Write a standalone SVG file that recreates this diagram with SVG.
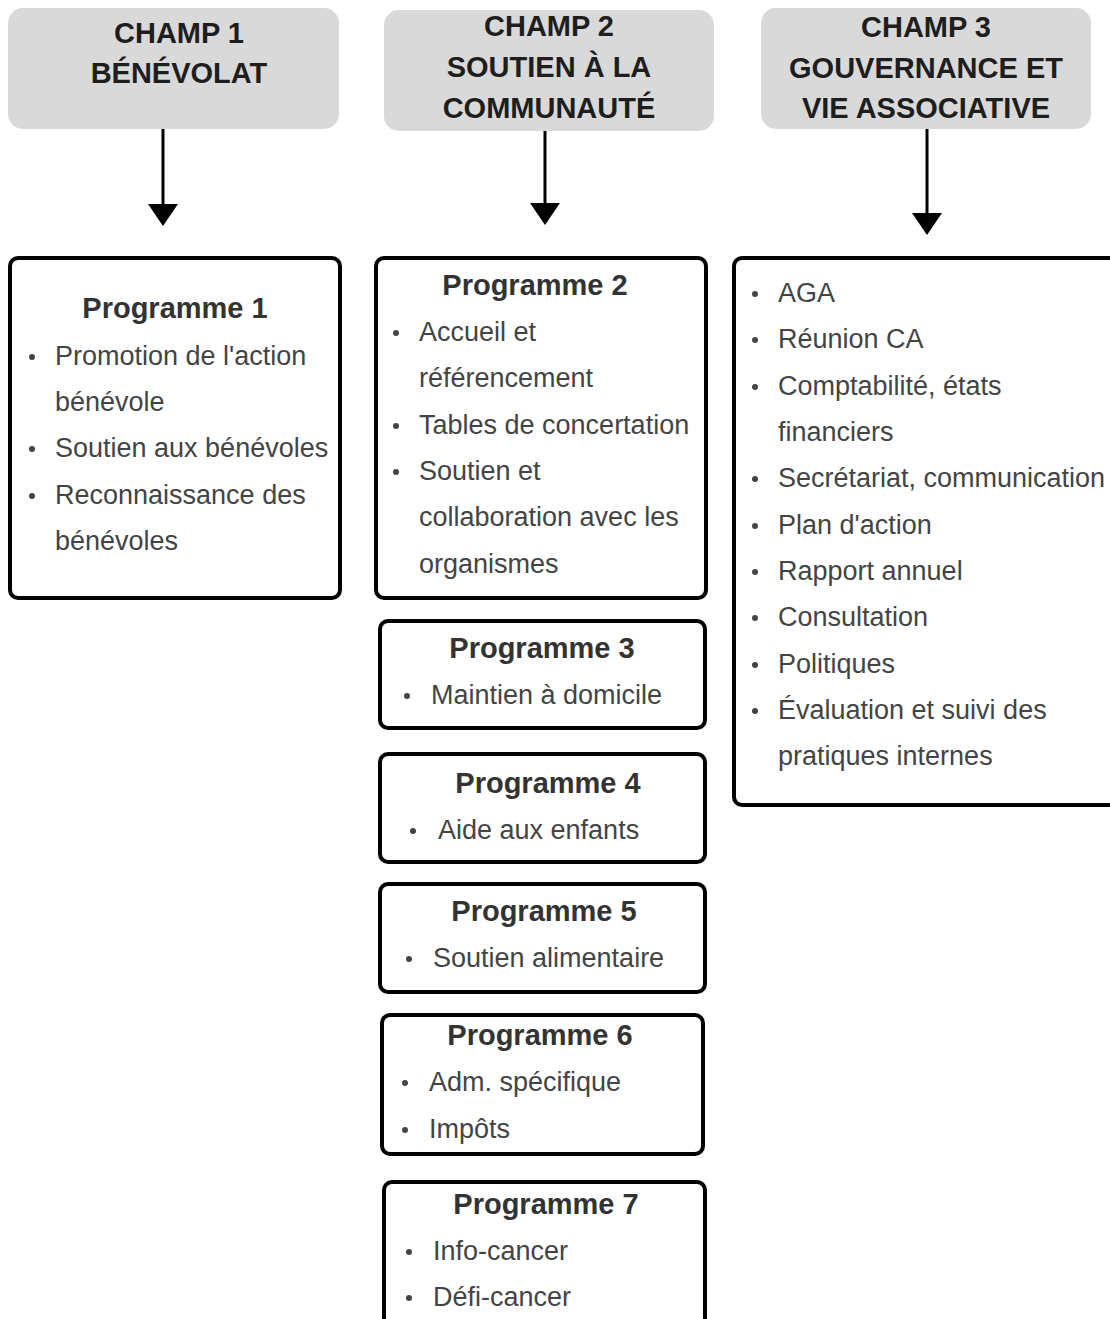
<svg xmlns="http://www.w3.org/2000/svg" width="1110" height="1319" viewBox="0 0 1110 1319">
<style>
.champ{fill:#d9d9d9;stroke:none}
.prog{fill:#fff;stroke:#000;stroke-width:4}
.ht{font-family:"Liberation Sans",Arial,sans-serif;font-weight:bold;font-size:29px;fill:#1e1e1e;text-anchor:middle}
.pt{font-family:"Liberation Sans",Arial,sans-serif;font-weight:bold;font-size:29px;fill:#333;text-anchor:middle}
.bt{font-family:"Liberation Sans",Arial,sans-serif;font-size:27px;fill:#444}
.bul{fill:#444}
.conn{stroke:#000;stroke-width:3;fill:none}
.head{fill:#000}
</style>
<rect width="1110" height="1319" fill="#fff"/>
<g id="champ1">
<rect class="champ" x="8" y="8" width="331" height="121" rx="15"/>
<text class="ht" x="179" y="43">CHAMP 1</text>
<text class="ht" x="179" y="83">BÉNÉVOLAT</text>
</g>
<g id="champ2">
<rect class="champ" x="384" y="10" width="330" height="121" rx="15"/>
<text class="ht" x="549" y="36">CHAMP 2</text>
<text class="ht" x="549" y="77">SOUTIEN À LA</text>
<text class="ht" x="549" y="118">COMMUNAUTÉ</text>
</g>
<g id="champ3">
<rect class="champ" x="761" y="8" width="330" height="121" rx="15"/>
<text class="ht" x="926" y="37">CHAMP 3</text>
<text class="ht" x="926" y="78">GOUVERNANCE ET</text>
<text class="ht" x="926" y="118">VIE ASSOCIATIVE</text>
</g>
<g id="connectors">
<line class="conn" x1="163" y1="129" x2="163" y2="205"/>
<polygon class="head" points="148,204 178,204 163,226"/>
<line class="conn" x1="545" y1="131" x2="545" y2="204"/>
<polygon class="head" points="530,203 560,203 545,225"/>
<line class="conn" x1="927" y1="129" x2="927" y2="214"/>
<polygon class="head" points="912,213 942,213 927,235"/>
</g>
<g id="programme1">
<rect class="prog" x="10" y="258" width="330" height="340" rx="8"/>
<text class="pt" x="175" y="318">Programme 1</text>
<circle class="bul" cx="32" cy="357" r="3"/>
<text class="bt" x="55" y="365">Promotion de l'action</text>
<text class="bt" x="55" y="411">bénévole</text>
<circle class="bul" cx="32" cy="449" r="3"/>
<text class="bt" x="55" y="457">Soutien aux bénévoles</text>
<circle class="bul" cx="32" cy="496" r="3"/>
<text class="bt" x="55" y="504">Reconnaissance des</text>
<text class="bt" x="55" y="550">bénévoles</text>
</g>
<g id="programme2">
<rect class="prog" x="376" y="258" width="330" height="340" rx="8"/>
<text class="pt" x="535" y="295">Programme 2</text>
<circle class="bul" cx="396" cy="333" r="3"/>
<text class="bt" x="419" y="341">Accueil et</text>
<text class="bt" x="419" y="387">référencement</text>
<circle class="bul" cx="396" cy="426" r="3"/>
<text class="bt" x="419" y="434">Tables de concertation</text>
<circle class="bul" cx="396" cy="472" r="3"/>
<text class="bt" x="419" y="480">Soutien et</text>
<text class="bt" x="419" y="526">collaboration avec les</text>
<text class="bt" x="419" y="573">organismes</text>
</g>
<g id="programme3">
<rect class="prog" x="380" y="621" width="325" height="107" rx="8"/>
<text class="pt" x="542" y="658">Programme 3</text>
<circle class="bul" cx="407" cy="696" r="3"/>
<text class="bt" x="431" y="704">Maintien à domicile</text>
</g>
<g id="programme4">
<rect class="prog" x="380" y="754" width="325" height="108" rx="8"/>
<text class="pt" x="548" y="793">Programme 4</text>
<circle class="bul" cx="413" cy="831" r="3"/>
<text class="bt" x="438" y="839">Aide aux enfants</text>
</g>
<g id="programme5">
<rect class="prog" x="380" y="884" width="325" height="108" rx="8"/>
<text class="pt" x="544" y="921">Programme 5</text>
<circle class="bul" cx="409" cy="959" r="3"/>
<text class="bt" x="433" y="967">Soutien alimentaire</text>
</g>
<g id="programme6">
<rect class="prog" x="382" y="1015" width="321" height="139" rx="8"/>
<text class="pt" x="540" y="1045">Programme 6</text>
<circle class="bul" cx="405" cy="1083" r="3"/>
<text class="bt" x="429" y="1091">Adm. spécifique</text>
<circle class="bul" cx="405" cy="1130" r="3"/>
<text class="bt" x="429" y="1138">Impôts</text>
</g>
<g id="programme7">
<rect class="prog" x="384" y="1182" width="321" height="160" rx="8"/>
<text class="pt" x="546" y="1214">Programme 7</text>
<circle class="bul" cx="409" cy="1252" r="3"/>
<text class="bt" x="433" y="1260">Info-cancer</text>
<circle class="bul" cx="409" cy="1298" r="3"/>
<text class="bt" x="433" y="1306">Défi-cancer</text>
</g>
<g id="gouvernance">
<rect class="prog" x="734" y="258" width="400" height="547" rx="8"/>
<circle class="bul" cx="755" cy="294" r="3"/>
<text class="bt" x="778" y="302">AGA</text>
<circle class="bul" cx="755" cy="340" r="3"/>
<text class="bt" x="778" y="348">Réunion CA</text>
<circle class="bul" cx="755" cy="387" r="3"/>
<text class="bt" x="778" y="395">Comptabilité, états</text>
<text class="bt" x="778" y="441">financiers</text>
<circle class="bul" cx="755" cy="479" r="3"/>
<text class="bt" x="778" y="487">Secrétariat, communication</text>
<circle class="bul" cx="755" cy="526" r="3"/>
<text class="bt" x="778" y="534">Plan d'action</text>
<circle class="bul" cx="755" cy="572" r="3"/>
<text class="bt" x="778" y="580">Rapport annuel</text>
<circle class="bul" cx="755" cy="618" r="3"/>
<text class="bt" x="778" y="626">Consultation</text>
<circle class="bul" cx="755" cy="665" r="3"/>
<text class="bt" x="778" y="673">Politiques</text>
<circle class="bul" cx="755" cy="711" r="3"/>
<text class="bt" x="778" y="719">Évaluation et suivi des</text>
<text class="bt" x="778" y="765">pratiques internes</text>
</g>
</svg>
